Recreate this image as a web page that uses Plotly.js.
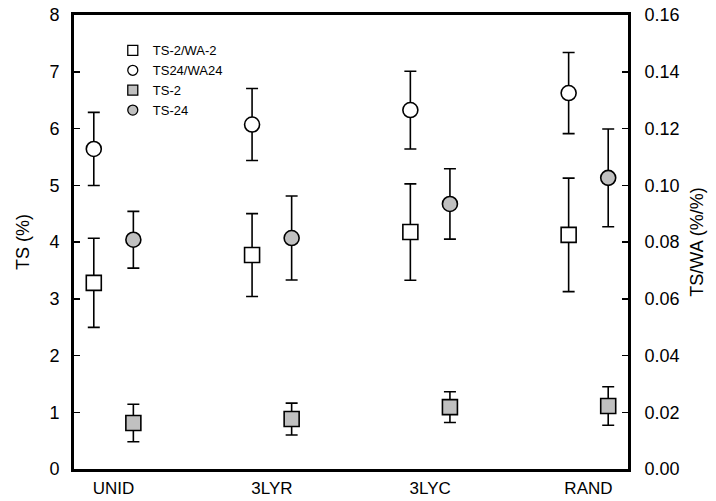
<!DOCTYPE html>
<html>
<head>
<meta charset="utf-8">
<script src="https://cdn.plot.ly/plotly-3.0.1.min.js"></script>
<style>html,body{margin:0;padding:0;background:#fff;}#chart{width:716px;height:501px;}</style>
</head>
<body>
<div id="chart"></div>
<script>
// Categories
const categories = ["UNID", "3LYR", "3LYC", "RAND"];

// Right axis (TS/WA, %/%)
const ts2wa2 = [0.0656, 0.0754, 0.0835, 0.0825];
const ts2wa2Err = [0.0157, 0.0146, 0.0170, 0.0200];
const ts24wa24 = [0.1128, 0.1214, 0.1265, 0.1325];
const ts24wa24Err = [0.0129, 0.0127, 0.0137, 0.0143];

// Left axis (TS, %)
const ts2 = [0.81, 0.88, 1.09, 1.11];
const ts2Err = [0.33, 0.28, 0.27, 0.34];
const ts24 = [4.04, 4.07, 4.67, 5.13];
const ts24Err = [0.50, 0.74, 0.62, 0.86];

const leftTicks = [0,1,2,3,4,5,6,7,8];
const rightTicks = [0,0.02,0.04,0.06,0.08,0.10,0.12,0.14,0.16];

const idx = categories.map((c, i) => i);
const xOpen = idx.map(i => i - 0.125);
const xGray = idx.map(i => i + 0.125);

const gray = "#c0c0c0";
const errStyle = (arr) => ({type: "data", array: arr, visible: true, color: "#000", thickness: 1.6, width: 6});

const traces = [
  {x: xOpen, y: ts2wa2, yaxis: "y2", type: "scatter", mode: "markers", name: "TS-2/WA-2", showlegend: false,
   marker: {symbol: "square", size: 15, color: "#fff", line: {color: "#000", width: 1.6}}, error_y: errStyle(ts2wa2Err)},
  {x: xOpen, y: ts24wa24, yaxis: "y2", type: "scatter", mode: "markers", name: "TS24/WA24", showlegend: false,
   marker: {symbol: "circle", size: 15, color: "#fff", line: {color: "#000", width: 1.6}}, error_y: errStyle(ts24wa24Err)},
  {x: xGray, y: ts2, type: "scatter", mode: "markers", name: "TS-2", showlegend: false,
   marker: {symbol: "square", size: 15, color: gray, line: {color: "#000", width: 1.6}}, error_y: errStyle(ts2Err)},
  {x: xGray, y: ts24, type: "scatter", mode: "markers", name: "TS-24", showlegend: false,
   marker: {symbol: "circle", size: 15, color: gray, line: {color: "#000", width: 1.6}}, error_y: errStyle(ts24Err)},
  // legend entries
  {x: [null], y: [null], type: "scatter", mode: "markers", name: "TS-2/WA-2",
   marker: {symbol: "square", size: 10, color: "#fff", line: {color: "#000", width: 1.3}}},
  {x: [null], y: [null], type: "scatter", mode: "markers", name: "TS24/WA24",
   marker: {symbol: "circle", size: 10, color: "#fff", line: {color: "#000", width: 1.3}}},
  {x: [null], y: [null], type: "scatter", mode: "markers", name: "TS-2",
   marker: {symbol: "square", size: 10, color: gray, line: {color: "#000", width: 1.3}}},
  {x: [null], y: [null], type: "scatter", mode: "markers", name: "TS-24",
   marker: {symbol: "circle", size: 10, color: gray, line: {color: "#000", width: 1.3}}}
];

const font = {family: "Liberation Sans, Arial, sans-serif", size: 18, color: "#000"};

const layout = {
  width: 716, height: 501,
  margin: {l: 74, r: 88, t: 15, b: 32},
  paper_bgcolor: "#fff", plot_bgcolor: "#fff",
  font: font,
  showlegend: true,
  legend: {x: 0.07, y: 0.955, xanchor: "left", yanchor: "top", bgcolor: "rgba(0,0,0,0)",
           font: {family: font.family, size: 13, color: "#000"}, tracegroupgap: 0, itemwidth: 30},
  xaxis: {range: [-0.25, 3.25], tickvals: idx, ticktext: categories, showgrid: false, zeroline: false,
          showline: true, linecolor: "#000", linewidth: 3, mirror: true, ticks: "", ticklabelstandoff: 2,
          tickfont: {family: font.family, size: 17, color: "#000"}},
  yaxis: {range: [0, 8], tickvals: leftTicks, showgrid: false, zeroline: false,
          showline: true, linecolor: "#000", linewidth: 3, ticks: "inside", ticklen: 6, tickwidth: 1.5,
          tickcolor: "#000", ticklabelstandoff: 8,
          title: {text: "TS (%)", font: {family: font.family, size: 18, color: "#000"}, standoff: 16}},
  yaxis2: {range: [0, 0.16], tickvals: rightTicks, tickformat: ".2f", overlaying: "y", side: "right",
           showgrid: false, zeroline: false, showline: true, linecolor: "#000", linewidth: 3,
           ticks: "inside", ticklen: 6, tickwidth: 1.5, tickcolor: "#000", ticklabelstandoff: 10,
           title: {text: "TS/WA (%/%)", font: {family: font.family, size: 18, color: "#000"}, standoff: 12}}
};

Plotly.newPlot("chart", traces, layout, {displayModeBar: false, staticPlot: true});
</script>
</body>
</html>
